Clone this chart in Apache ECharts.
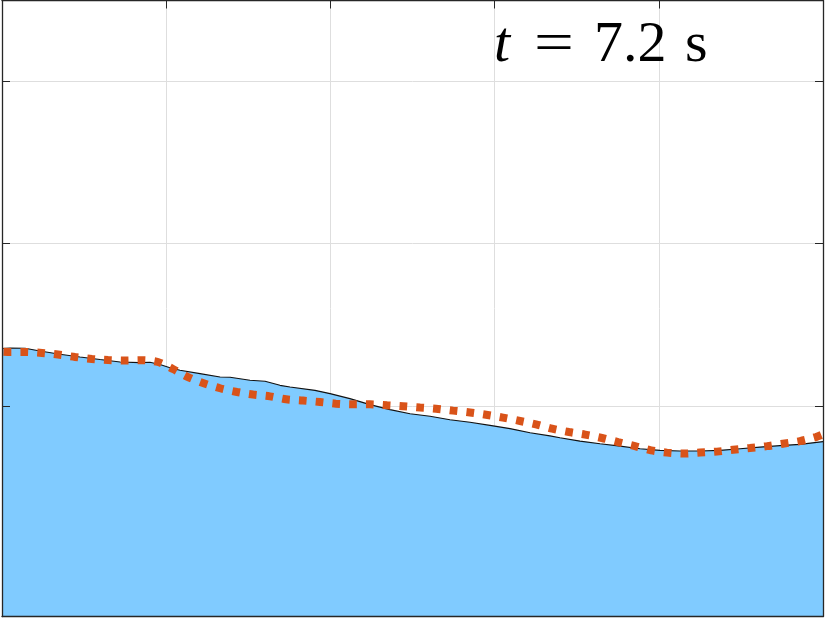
<!DOCTYPE html>
<html>
<head>
<meta charset="utf-8">
<script src="https://cdn.jsdelivr.net/npm/echarts@6/dist/echarts.min.js"></script>
<style>
  html, body { margin: 0; padding: 0; background: #ffffff; }
  #chart { width: 830px; height: 621px; }
</style>
</head>
<body>
<div id="chart"></div>
<script>
// Free surface (simulation) — x positions and elevations
const surfaceX = [0.000, 0.049, 0.140, 0.231, 0.353, 0.475, 0.597, 0.719, 0.840, 0.901,
  0.962, 1.023, 1.084, 1.206, 1.328, 1.389, 1.510, 1.602, 1.693, 1.754,
  1.906, 1.998, 2.119, 2.241, 2.363, 2.485, 2.607, 2.728, 2.850, 2.972,
  3.094, 3.216, 3.337, 3.398, 3.520, 3.642, 3.764, 3.886, 4.007, 4.129,
  4.251, 4.373, 4.495, 4.616, 4.738, 4.860, 5.000];
const surfaceY = [0.1353, 0.1356, 0.1355, 0.1338, 0.1318, 0.1301, 0.1285, 0.1270, 0.1266, 0.1268,
  0.1254, 0.1235, 0.1219, 0.1198, 0.1177, 0.1176, 0.1157, 0.1151, 0.1126, 0.1116,
  0.1095, 0.1075, 0.1044, 0.1007, 0.0976, 0.0951, 0.0935, 0.0914, 0.0898, 0.0879,
  0.0859, 0.0834, 0.0814, 0.0803, 0.0782, 0.0766, 0.0751, 0.0735, 0.0725, 0.0721,
  0.0721, 0.0725, 0.0735, 0.0745, 0.0754, 0.0762, 0.0779];

// Reference solution (dotted orange)
const refX = [0.000, 0.037, 0.140, 0.244, 0.341, 0.445, 0.548, 0.646, 0.749, 0.853,
  0.950, 1.041, 1.133, 1.224, 1.328, 1.431, 1.529, 1.632, 1.730, 1.833,
  1.937, 2.034, 2.138, 2.241, 2.345, 2.442, 2.546, 2.643, 2.747, 2.850,
  2.948, 3.051, 3.155, 3.252, 3.350, 3.453, 3.551, 3.654, 3.752, 3.855,
  3.953, 4.050, 4.153, 4.251, 4.354, 4.452, 4.555, 4.659, 4.756, 4.860,
  4.957, 5.000];
const refY = [0.1333, 0.1332, 0.1332, 0.1326, 0.1316, 0.1301, 0.1289, 0.1282, 0.1279, 0.1281,
  0.1270, 0.1227, 0.1177, 0.1140, 0.1108, 0.1085, 0.1069, 0.1058, 0.1040, 0.1032,
  0.1023, 0.1013, 0.1009, 0.1009, 0.1003, 0.0997, 0.0989, 0.0982, 0.0970, 0.0959,
  0.0945, 0.0927, 0.0906, 0.0885, 0.0859, 0.0838, 0.0822, 0.0801, 0.0776, 0.0751,
  0.0725, 0.0711, 0.0705, 0.0711, 0.0717, 0.0729, 0.0739, 0.0751, 0.0766, 0.0782,
  0.0807, 0.0824];

const xTicks = [0, 1, 2, 3, 4, 5];
const xTickMarks = [1, 2, 3, 4];
const yTicks = [0.1, 0.2, 0.3];
const yMin = -0.03, yMax = 0.35;
const timeLabel = ['t', '=', '7.2', 's'];

const axisColor = '#262626';
const gridColor = '#dedede';

const chart = echarts.init(document.getElementById('chart'), null, { renderer: 'canvas' });

const hidden = { show: false };
const xBase = { type: 'value', min: xTicks[0], max: xTicks[xTicks.length - 1], interval: 1 };
const yBase = { type: 'value', min: yMin, max: yMax, splitNumber: 4 };
const tickStyle = { show: true, inside: true, length: 8, lineStyle: { color: axisColor, width: 1 } };
const frameLine = { show: true, onZero: false, lineStyle: { color: axisColor, width: 1.3 } };

const option = {
  animation: false,
  backgroundColor: '#ffffff',
  grid: { left: 2, right: 7, top: 0.5, bottom: 4.5, containLabel: false },
  xAxis: [
    Object.assign({}, xBase, { position: 'bottom', z: 0,
      axisLine: hidden, axisTick: hidden, axisLabel: hidden,
      splitLine: { show: true, lineStyle: { color: gridColor, width: 1 } } }),
    Object.assign({}, xBase, { position: 'bottom', z: 20,
      axisLine: frameLine, axisTick: hidden, axisLabel: hidden, splitLine: hidden }),
    Object.assign({}, xBase, { position: 'top', z: 20,
      axisLine: frameLine,
      axisTick: Object.assign({ customValues: xTickMarks }, tickStyle),
      axisLabel: hidden, splitLine: hidden })
  ],
  yAxis: [
    Object.assign({}, yBase, { position: 'left', z: 0,
      axisLine: hidden, axisLabel: hidden, axisTick: hidden,
      splitLine: { show: true, lineStyle: { color: gridColor, width: 1 } } }),
    Object.assign({}, yBase, { position: 'left', z: 20,
      axisLine: frameLine,
      axisTick: Object.assign({ customValues: yTicks }, tickStyle),
      axisLabel: hidden, splitLine: hidden }),
    Object.assign({}, yBase, { position: 'right', z: 20,
      axisLine: frameLine,
      axisTick: Object.assign({ customValues: yTicks }, tickStyle),
      axisLabel: hidden, splitLine: hidden })
  ],
  series: [
    {
      name: 'surface',
      type: 'line',
      xAxisIndex: 0, yAxisIndex: 0,
      data: surfaceX.map((x, i) => [x, surfaceY[i]]),
      showSymbol: false,
      smooth: false,
      z: 2,
      lineStyle: { color: '#111111', width: 1.1 },
      areaStyle: { color: '#80cbff', opacity: 1, origin: 'start' }
    },
    {
      name: 'reference',
      type: 'line',
      xAxisIndex: 0, yAxisIndex: 0,
      data: refX.map((x, i) => [x, refY[i]]),
      showSymbol: false,
      smooth: 0.3,
      z: 3,
      lineStyle: { color: '#d95319', width: 8, type: [8, 8.8], dashOffset: -1.5, cap: 'butt' }
    }
  ],
  graphic: [
    { type: 'text', z: 30, left: 494, top: 17,
      style: { text: timeLabel[0], font: 'italic 58px "Liberation Serif"', fill: '#000' } },
    { type: 'text', z: 30, x: 534, y: 17, scaleX: 1.22,
      style: { text: timeLabel[1], font: '58px "Liberation Serif"', fill: '#000' } },
    { type: 'text', z: 30, left: 594, top: 17,
      style: { text: timeLabel[2], font: '58px "Liberation Serif"', fill: '#000' } },
    { type: 'text', z: 30, left: 685, top: 17,
      style: { text: timeLabel[3], font: '58px "Liberation Serif"', fill: '#000' } }
  ]
};

chart.setOption(option);
</script>
</body>
</html>
